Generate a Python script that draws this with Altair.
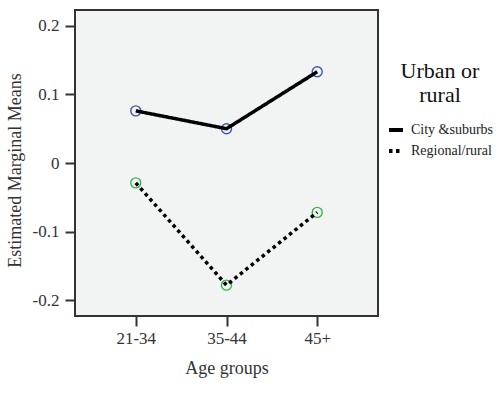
import altair as alt
import pandas as pd

# Estimated marginal means by age group and area type
age_groups = ["21-34", "35-44", "45+"]
area_labels = ["City &suburbs", "Regional/rural"]
city_means = [0.076, 0.050, 0.133]
regional_means = [-0.029, -0.178, -0.072]
y_ticks = [-0.2, -0.1, 0, 0.1, 0.2]

point_colors = ["#3d55b0", "#3cb548"]
dash_patterns = [[1, 0], [3.5, 3.5]]

rows = []
for label, series in zip(area_labels, [city_means, regional_means]):
    for age, val in zip(age_groups, series):
        rows.append({"Age": age, "Mean": val, "Area": label, "Marker": label})
df = pd.DataFrame(rows)

FONT = "Liberation Serif"
INK = "#333333"

axis_style = dict(
    labelFont=FONT, labelFontSize=17, labelColor=INK,
    titleFont=FONT, titleFontSize=18, titleFontWeight="normal", titleColor=INK,
    tickColor=INK, tickWidth=2, tickSize=10, domain=False, grid=False,
)

x_enc = alt.X(
    "Age:N",
    sort=age_groups,
    scale=alt.Scale(type="point", padding=0.67),
    axis=alt.Axis(title="Age groups", labelAngle=0, labelPadding=4, titlePadding=13, **axis_style),
)
y_enc = alt.Y(
    "Mean:Q",
    scale=alt.Scale(domain=[-0.223, 0.223], nice=False, zero=False),
    axis=alt.Axis(
        title="Estimated Marginal Means",
        values=y_ticks,
        labelExpr="datum.value == 0 ? '0' : (datum.value < 0 ? '-' + format(-datum.value, '.1f') : format(datum.value, '.1f'))",
        labelPadding=6,
        titlePadding=8,
        titleY=160,
        **axis_style,
    ),
)

# open circle markers; the colour scale keeps its own (data-driven) domain so
# its hidden legend is not merged with the line-style legend
points = alt.Chart(df).mark_point(
    shape="circle", filled=False, size=100, strokeWidth=1.4, opacity=1
).encode(
    x=x_enc,
    y=y_enc,
    color=alt.Color("Marker:N", scale=alt.Scale(range=point_colors), legend=None),
)

lines = alt.Chart(df).mark_line(color="black", strokeWidth=3.5, strokeCap="butt").encode(
    x=x_enc,
    y=y_enc,
    strokeDash=alt.StrokeDash(
        "Area:N",
        scale=alt.Scale(domain=area_labels, range=dash_patterns),
        legend=alt.Legend(
            title=["Urban or", "rural"],
            orient="none",
            legendX=312,
            legendY=51,
            titleFont=FONT,
            titleFontSize=22,
            titleFontWeight="normal",
            titleColor="#111111",
            titleAnchor="middle",
            titleAlign="center",
            titleLineHeight=24,
            titlePadding=14,
            labelFont=FONT,
            labelFontSize=14,
            labelColor="#222222",
            labelOffset=6,
            symbolType="stroke",
            symbolSize=196,
            symbolStrokeWidth=4,
            symbolStrokeColor="black",
            rowPadding=4,
        ),
    ),
)

chart = (
    alt.layer(points, lines)
    .properties(
        width=303,
        height=306,
        autosize=alt.AutoSizeParams(type="none"),
        padding={"left": 75, "top": 10, "right": 121, "bottom": 85},
        background="white",
    )
    .configure_view(stroke=INK, strokeWidth=2, fill="#f2f4f3")
)

chart.save("out.html", embed_options={"renderer": "svg", "actions": False})
